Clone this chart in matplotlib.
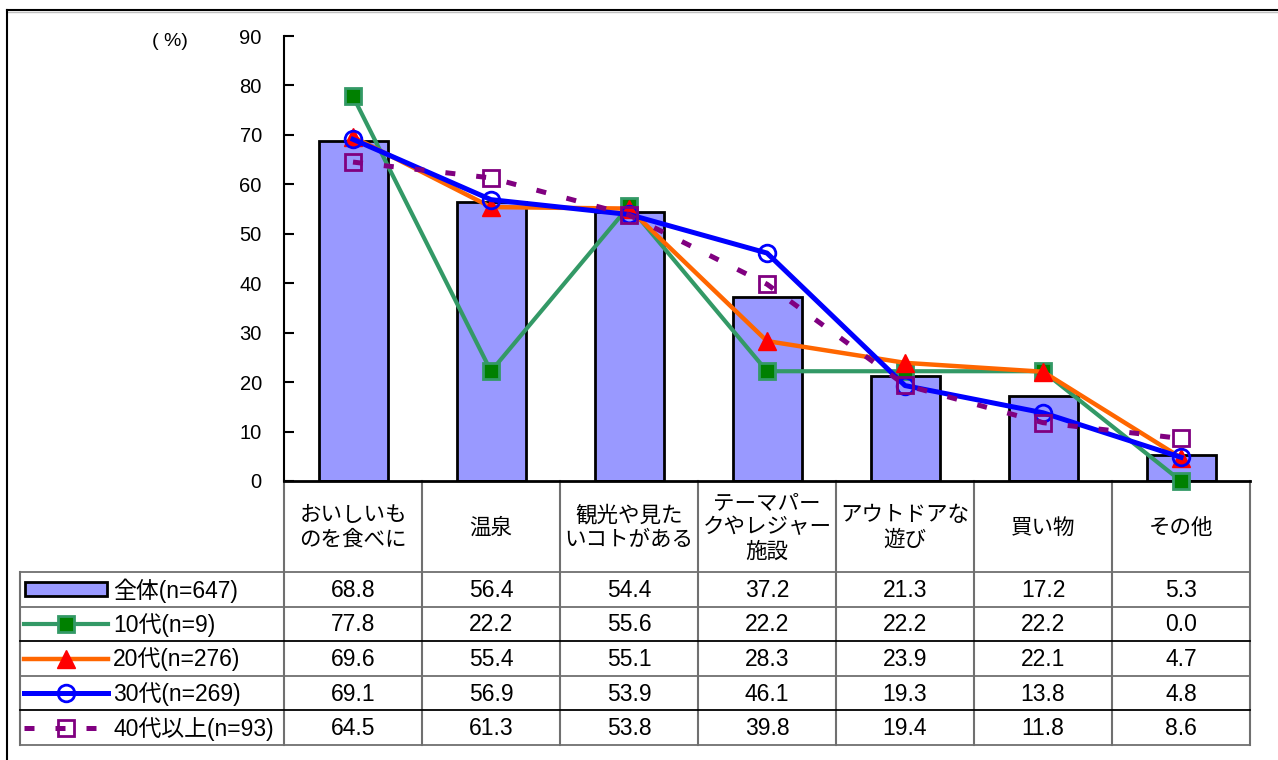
import matplotlib
matplotlib.use("Agg")
import matplotlib.pyplot as plt
from matplotlib.lines import Line2D
from matplotlib.patches import Rectangle

# --- data -------------------------------------------------------------
categories = ["おいしいも\nのを食べに", "温泉", "観光や見た\nいコトがある",
              "テーマパー\nクやレジャー\n施設", "アウトドアな\n遊び", "買い物", "その他"]
total = [68.8, 56.4, 54.4, 37.2, 21.3, 17.2, 5.3]
age10 = [77.8, 22.2, 55.6, 22.2, 22.2, 22.2, 0.0]
age20 = [69.6, 55.4, 55.1, 28.3, 23.9, 22.1, 4.7]
age30 = [69.1, 56.9, 53.9, 46.1, 19.3, 13.8, 4.8]
age40 = [64.5, 61.3, 53.8, 39.8, 19.4, 11.8, 8.6]
series_labels = ["全体(n=647)", "10代(n=9)", "20代(n=276)", "30代(n=269)", "40代以上(n=93)"]
y_ticks = [0, 10, 20, 30, 40, 50, 60, 70, 80, 90]

W, H = 1278, 760
FONT = ["Liberation Sans", "Noto Sans CJK JP"]
plt.rcParams["font.family"] = FONT

fig = plt.figure(figsize=(W / 100, H / 100), dpi=100)

# pixel-space overlay for the frame and the data table
tab = fig.add_axes([0, 0, 1, 1])
tab.set_xlim(0, W)
tab.set_ylim(H, 0)
tab.axis("off")

# plot area
x_left, x_right, y_top, y_bottom = 284, 1250, 36, 481
ax = fig.add_axes([x_left / W, 1 - y_bottom / H, (x_right - x_left) / W, (y_bottom - y_top) / H])
ax.set_facecolor("none")
n = len(categories)
xs = list(range(n))

bar_color = "#9999FF"
ax.bar(xs, total, width=0.5, color=bar_color, edgecolor="black", linewidth=2, zorder=2)

styles = [
    dict(color="#339966", lw=3, marker="s", ms=11, mfc="#008000", mec="#339966", mew=2),
    dict(color="#FF6600", lw=3.2, marker="^", ms=13, mfc="#FF0000", mec="#FF0000", mew=1),
    dict(color="#0000FF", lw=3.6, marker="o", ms=12, mfc="none", mec="#0000FF", mew=2),
    dict(color="#800080", lw=3.6, marker="s", ms=12, mfc="none", mec="#800080", mew=2,
         linestyle=(0, (2, 4.2))),
]
for z, (vals, st) in enumerate(zip([age10, age20, age30, age40], styles)):
    ax.plot(xs, vals, zorder=3 + z, clip_on=False, **st)

ax.set_xlim(-0.5, n - 0.5)
ax.set_ylim(0, 90)
ax.set_yticks(y_ticks)
ax.set_xticks([])
ax.tick_params(axis="y", direction="in", length=7, width=1.5, pad=16, labelsize=14.5)
for s in ["top", "right"]:
    ax.spines[s].set_visible(False)
ax.spines["left"].set_linewidth(1.5)
ax.spines["bottom"].set_linewidth(2)
ax.text(170, 41, "( %)", transform=tab.transData, fontsize=14, ha="center", va="center")

# outer frame
tab.plot([7, W], [10, 10], color="black", lw=1.5)
tab.plot([7, W], [12, 12], color="#C0C0C0", lw=1)
tab.plot([7, 7], [10, H], color="black", lw=1.5)

# table grid
col_w = (x_right - x_left) / n
col_edges = [x_left + col_w * k for k in range(n + 1)]
hdr_bottom = 572
row_h = 34.6
row_edges = [hdr_bottom + row_h * i for i in range(len(series_labels) + 1)]
grid_c = "#707070"
for xe in col_edges:
    tab.plot([xe, xe], [y_bottom, row_edges[-1]], color=grid_c, lw=1.5)
tab.plot([20, 20], [hdr_bottom, row_edges[-1]], color=grid_c, lw=1.5)
for i, ye in enumerate(row_edges):
    tab.plot([20, x_right], [ye, ye], color="black" if i in (2, 4) else grid_c, lw=1.3)

# header row
for k, lab in enumerate(categories):
    tab.text((col_edges[k] + col_edges[k + 1]) / 2, (y_bottom + hdr_bottom) / 2 + 1, lab,
             ha="center", va="center", fontsize=15.5, linespacing=1.12,
             family=["Noto Sans CJK JP"])

# data rows
all_vals = [total, age10, age20, age30, age40]
for i, (lab, vals) in enumerate(zip(series_labels, all_vals)):
    yc = (row_edges[i] + row_edges[i + 1]) / 2
    for k, v in enumerate(vals):
        tab.text((col_edges[k] + col_edges[k + 1]) / 2, yc + 1, f"{v:.1f}",
                 ha="center", va="center", fontsize=16.5)
    tab.text(113, yc + 1, lab, ha="left", va="center", fontsize=16.5)
    if i == 0:
        tab.add_patch(Rectangle((25, yc - 7), 82, 14, facecolor=bar_color,
                                edgecolor="black", lw=2))
    else:
        st = dict(styles[i - 1])
        tab.add_line(Line2D([24, 108], [yc, yc], **{k2: v2 for k2, v2 in st.items()
                                                    if k2 not in ("marker", "ms", "mfc", "mec", "mew")}))
        tab.add_line(Line2D([66], [yc], linestyle="none", marker=st["marker"], ms=st["ms"],
                            mfc=st["mfc"], mec=st["mec"], mew=st["mew"]))

fig.savefig("out.png", dpi=100)
